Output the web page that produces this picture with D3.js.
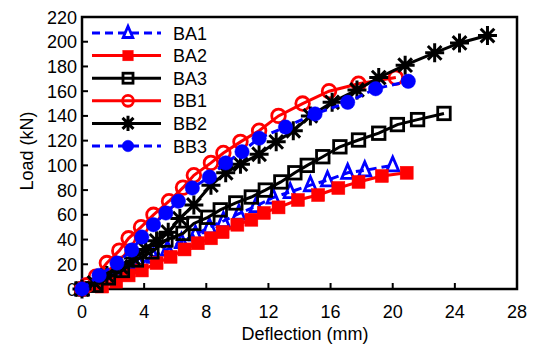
<!DOCTYPE html>
<html><head><meta charset="utf-8">
<script src="https://cdn.jsdelivr.net/npm/d3@7"></script>
<style>body{margin:0;background:#fff}svg{display:block}text{font-family:Arial,"Liberation Sans",sans-serif}</style>
</head><body><svg id="c" width="534" height="345"></svg>
<script>
// Data (deflection mm, load kN)
const seriesNames = ["BA1","BA2","BA3","BB1","BB2","BB3"];
const ba1Defl = [0,1.0,1.9,2.8,3.7,4.6,5.5,6.4,7.3,8.2,9.1,10.1,11.2,12.3,13.4,14.7,15.8,17.1,18.2,20.0];
const ba1Load = [0,4,9,14,20,26,32,38,44,50,55,61,67,74,78.5,84,88,94,96,100];
const ba2Defl = [0,1.3,2.2,3.0,3.85,4.8,5.7,6.6,7.45,8.3,9.05,10.0,10.9,11.7,12.65,13.9,15.2,16.5,17.8,19.3,20.9];
const ba2Load = [0,2,6,11,15,21,26,32,37,41,46,52,56,61.5,66,72,76,81.7,86.6,91.4,94];
const ba3Defl = [0,0.9,1.7,2.6,3.5,4.5,5.4,6.5,7.2,8.1,8.9,9.9,10.9,11.8,12.8,13.7,14.5,15.5,16.6,17.8,19.1,20.3,21.6,23.3];
const ba3Load = [0,3,9,15,23.5,30,39.6,45,53,58,64,69.6,74.4,80,86.6,94,100,107,115,120.5,126,133,137,142];
const bb1Defl = [0,0.3,0.9,1.6,2.4,3.0,3.8,4.6,5.6,6.5,7.2,8.3,9.1,10.2,11.4,12.65,14.2,15.9,17.8,20.2];
const bb1Load = [0,3,10,21,31,41,50,60,71,82,92,102,110,119,128,140,150,160,166,171];
const bb2Defl = [0,0.8,1.6,2.5,3.3,4.1,4.8,5.55,6.3,7.2,8.3,9.25,10.2,11.4,12.5,13.6,14.7,16.1,17.7,19.1,20.8,22.7,24.3,26.1];
const bb2Load = [0,5,11,18,25,32,39,46,57,68,84,94,101,109,119,128,140,151,161,171,181,191,199,205];
const bb3Defl = [0,1.1,2.25,3.2,3.85,4.6,5.4,6.2,7.1,8.2,9.25,10.3,11.4,13.1,15.0,17.1,18.9,21.0];
const bb3Load = [0,11,21,31.5,42,52,61.5,71,81.7,90.6,102,111,122,131,141.6,151,162,168];
const xTicks = [0,4,8,12,16,20,24,28];
const yTicks = [0,20,40,60,80,100,120,140,160,180,200,220];

const svg = d3.select("#c");
const L = 82, R = 517, T = 17, B = 289;
const x = d3.scaleLinear().domain([0,28]).range([L,R]);
const y = d3.scaleLinear().domain([0,220]).range([B,T]);

const styles = {
  BA1:{color:"#0000ff", dash:"8,5", marker:"tri", fill:"none"},
  BA2:{color:"#ff0000", dash:null, marker:"sq", fill:"#ff0000"},
  BA3:{color:"#000000", dash:null, marker:"sq", fill:"none"},
  BB1:{color:"#ff0000", dash:null, marker:"circ", fill:"none"},
  BB2:{color:"#000000", dash:null, marker:"star", fill:"none"},
  BB3:{color:"#0000ff", dash:"8,5", marker:"circ", fill:"#0000ff"}
};
const data = {
  BA1: ba1Defl.map((d,i)=>[d,ba1Load[i]]),
  BA2: ba2Defl.map((d,i)=>[d,ba2Load[i]]),
  BA3: ba3Defl.map((d,i)=>[d,ba3Load[i]]),
  BB1: bb1Defl.map((d,i)=>[d,bb1Load[i]]),
  BB2: bb2Defl.map((d,i)=>[d,bb2Load[i]]),
  BB3: bb3Defl.map((d,i)=>[d,bb3Load[i]])
};

function drawMarker(g, type, cx, cy, st, s) {
  const sw = 2.8;
  if (type === "tri") {
    const h = 14*s, w = 12*s;
    g.append("path").attr("d", `M${cx},${cy-h*0.6}L${cx+w/2},${cy+h*0.4}L${cx-w/2},${cy+h*0.4}Z`)
      .attr("fill", st.fill).attr("stroke", st.color).attr("stroke-width", sw);
  } else if (type === "sq") {
    const a = (st.fill === "none" ? 12.5 : 13)*s;
    g.append("rect").attr("x", cx-a/2).attr("y", cy-a/2).attr("width", a).attr("height", a)
      .attr("fill", st.fill).attr("stroke", st.color).attr("stroke-width", st.fill==="none"?sw:0.5);
  } else if (type === "circ") {
    const r = (st.fill === "none" ? 6.8 : 7.2)*s;
    g.append("circle").attr("cx", cx).attr("cy", cy).attr("r", r)
      .attr("fill", st.fill).attr("stroke", st.color).attr("stroke-width", st.fill==="none"?sw:0.5);
  } else if (type === "star") {
    const r = 9.5*s, q = r*0.72;
    g.append("path").attr("d", `M${cx},${cy-r}V${cy+r}M${cx-r},${cy}H${cx+r}M${cx-q},${cy-q}L${cx+q},${cy+q}M${cx-q},${cy+q}L${cx+q},${cy-q}`)
      .attr("stroke", st.color).attr("stroke-width", 3).attr("fill","none");
  }
}

// Frame, ticks
const ax = svg.append("g");
ax.append("rect").attr("x", L).attr("y", T).attr("width", R-L).attr("height", B-T)
  .attr("fill","none").attr("stroke","#000").attr("stroke-width",2.5);
xTicks.forEach(t=>{
  ax.append("line").attr("x1",x(t)).attr("x2",x(t)).attr("y1",B).attr("y2",B-6).attr("stroke","#000").attr("stroke-width",2);
  ax.append("text").attr("x",x(t)).attr("y",318).attr("text-anchor","middle").attr("font-size",18).text(t);
});
yTicks.forEach(t=>{
  ax.append("line").attr("x1",L).attr("x2",L+6).attr("y1",y(t)).attr("y2",y(t)).attr("stroke","#000").attr("stroke-width",2);
  ax.append("text").attr("x",77).attr("y",y(t)+6.5).attr("text-anchor","end").attr("font-size",18).text(t);
});
svg.append("text").attr("x",305).attr("y",340).attr("text-anchor","middle").attr("font-size",18).text("Deflection (mm)");
svg.append("text").attr("transform","translate(33,151) rotate(-90)").attr("text-anchor","middle").attr("font-size",18).text("Load (kN)");

// Series
const line = d3.line().x(d=>x(d[0])).y(d=>y(d[1]));
seriesNames.forEach(n=>{
  const st = styles[n];
  const g = svg.append("g");
  g.append("path").attr("d", line(data[n])).attr("fill","none").attr("stroke",st.color)
    .attr("stroke-width",3).attr("stroke-dasharray", st.dash);
  data[n].forEach(d=>drawMarker(g, st.marker, x(d[0]), y(d[1]), st, 1));
});

// Legend
seriesNames.forEach((n,i)=>{
  const st = styles[n];
  const cy = 33 + i*22.6;
  const g = svg.append("g");
  g.append("line").attr("x1",92).attr("x2",161).attr("y1",cy).attr("y2",cy).attr("stroke",st.color)
    .attr("stroke-width",3).attr("stroke-dasharray", st.dash);
  drawMarker(g, st.marker, 128, cy, st, 0.8);
  g.append("text").attr("x",173).attr("y",cy+6.5).attr("font-size",18).text(n);
});
</script></body></html>
